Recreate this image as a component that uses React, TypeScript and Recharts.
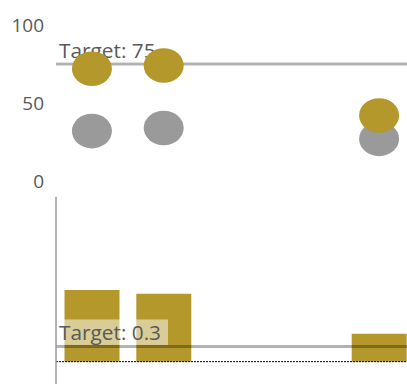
import React from 'react';
import {
  ComposedChart, ScatterChart, Scatter, Bar, XAxis, YAxis, ReferenceLine,
} from 'recharts';

// five slots along x; the middle two have no readings
const categories = ['1', '2', '3', '4', '5'];
const goldScores = [72, 74, null, null, 42];
const grayScores = [32, 34, null, null, 27];
const barValues = [1.41, 1.34, null, null, 0.55];
const scoreTicks = [0, 50, 100];
const scoreTarget = 75;
const barTarget = 0.3;

const GOLD = '#b4982c';
const GRAY = '#9a9a9a';
const TEXT = '#595959';
const FONT = '"Open Sans", sans-serif';

const goldData = categories
  .map((c, i) => ({ x: i, y: goldScores[i] }))
  .filter((d) => d.y !== null);
const grayData = categories
  .map((c, i) => ({ x: i, y: grayScores[i] }))
  .filter((d) => d.y !== null);
const barData = categories.map((c, i) => ({ name: c, value: barValues[i] }));

const Ellipse = (props: any) => {
  const { cx, cy, fill } = props;
  return <ellipse cx={cx} cy={cy} rx={20} ry={17.3} fill={fill} />;
};

// white translucent tag sitting on top of a target line
const TargetLabel = (props: any) => {
  const { viewBox, text, boxWidth } = props;
  const x = viewBox.x;
  const y = viewBox.y;
  return (
    <g>
      <rect x={x + 1} y={y - 27} width={boxWidth} height={25.5} fill="#fff" fillOpacity={0.5} />
      <text x={x + 3} y={y - 6} fill={TEXT} fontSize={20.8} fontFamily={FONT}>
        {text}
      </text>
    </g>
  );
};

export default function App() {
  return (
    <div style={{ position: 'absolute', left: 0, top: 0, width: 407, height: 387, overflow: 'hidden', background: '#fff' }}>
      <div style={{ position: 'absolute', left: 0, top: 0 }}>
        <ScatterChart width={415} height={196} margin={{ top: 25, right: 0, bottom: 15, left: 0 }}>
          <XAxis type="number" dataKey="x" domain={[-0.5, 4.5]} hide />
          <YAxis
            type="number"
            dataKey="y"
            domain={[0, 100]}
            ticks={scoreTicks}
            interval={0}
            width={56}
            axisLine={false}
            tickLine={false}
            tickSize={0}
            tickMargin={12}
            tick={{ fill: TEXT, fontSize: 19, fontFamily: FONT }}
          />
          <Scatter data={grayData} fill={GRAY} shape={<Ellipse />} isAnimationActive={false} />
          <Scatter data={goldData} fill={GOLD} shape={<Ellipse />} isAnimationActive={false} />
          <ReferenceLine
            y={scoreTarget}
            stroke="#000"
            strokeOpacity={0.3}
            strokeWidth={3}
            label={<TargetLabel text={`Target: ${scoreTarget}`} boxWidth={105} />}
          />
        </ScatterChart>
      </div>
      <div style={{ position: 'absolute', left: 0, top: 186 }}>
        <ComposedChart
          width={415}
          height={201}
          data={barData}
          margin={{ top: 10.7, right: 0, bottom: 3, left: 0 }}
          barCategoryGap={8.5}
        >
          <XAxis dataKey="name" hide />
          <YAxis
            type="number"
            domain={[-0.44, 3.25]}
            width={56}
            tick={false}
            tickLine={false}
            axisLine={{ stroke: '#999', strokeWidth: 1.5 }}
          />
          <Bar dataKey="value" fill={GOLD} isAnimationActive={false} />
          <ReferenceLine
            y={barTarget}
            stroke="#000"
            strokeOpacity={0.3}
            strokeWidth={3}
            label={<TargetLabel text={`Target: ${barTarget}`} boxWidth={111} />}
          />
          <ReferenceLine y={0} stroke="#000" strokeWidth={1} strokeDasharray="2 1" />
        </ComposedChart>
      </div>
    </div>
  );
}
